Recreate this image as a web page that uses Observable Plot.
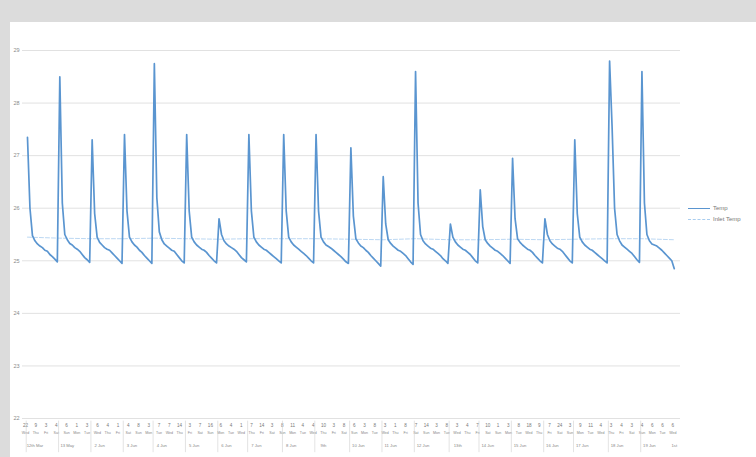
<!DOCTYPE html>
<html>
<head>
<meta charset="utf-8">
<script src="https://cdn.jsdelivr.net/npm/d3@7"></script>
<script src="https://cdn.jsdelivr.net/npm/@observablehq/plot@0.6"></script>
<style>
  html, body { margin: 0; padding: 0; }
  body { width: 756px; height: 457px; background: #dcdcdc; position: relative; overflow: hidden; font-family: "Liberation Sans", Arial, sans-serif; }
  #panel { position: absolute; left: 10px; top: 22px; width: 746px; height: 435px; background: #fff; }
  #legend { position: absolute; left: 678px; top: 181px; font-size: 6px; color: #777; line-height: 11px; }
  #legend .row { display: flex; align-items: center; }
  #legend .sw { width: 22px; height: 0; margin-right: 3px; }
</style>
</head>
<body>
<div id="panel">
  <div id="chart"></div>
  <div id="legend">
    <div class="row"><span class="sw" style="border-top:1.5px solid #5a95d0"></span>Temp</div>
    <div class="row"><span class="sw" style="border-top:1px dashed #a9cdef"></span>Inlet Temp</div>
  </div>
</div>
<script>
// Series names
const seriesNames = ["Temp", "Inlet Temp"];

// Temperature readings, one array per heating cycle
const cycles = [
  [27.35, 26.0, 25.48, 25.38, 25.32, 25.28, 25.25, 25.2, 25.18, 25.12, 25.08, 25.03, 24.98],
  [28.5, 26.1, 25.5, 25.4, 25.33, 25.3, 25.25, 25.22, 25.18, 25.12, 25.06, 25.02, 24.97],
  [27.3, 25.9, 25.45, 25.35, 25.3, 25.25, 25.22, 25.2, 25.15, 25.1, 25.05, 25.0, 24.95],
  [27.4, 25.95, 25.45, 25.36, 25.3, 25.26, 25.2, 25.16, 25.1, 25.05, 25.0, 24.95],
  [28.75, 26.2, 25.55, 25.4, 25.32, 25.28, 25.24, 25.2, 25.18, 25.12, 25.06, 25.0, 24.96],
  [27.4, 25.95, 25.45, 25.36, 25.3, 25.26, 25.22, 25.2, 25.16, 25.1, 25.05, 25.0, 24.96],
  [25.8, 25.5, 25.38, 25.32, 25.28, 25.25, 25.22, 25.18, 25.12, 25.06, 25.02, 24.98],
  [27.4, 25.95, 25.45, 25.36, 25.3, 25.26, 25.22, 25.2, 25.16, 25.12, 25.08, 25.04, 25.0, 24.96],
  [27.4, 25.95, 25.45, 25.36, 25.3, 25.26, 25.22, 25.18, 25.14, 25.1, 25.05, 25.0, 24.96],
  [27.4, 25.95, 25.45, 25.36, 25.3, 25.27, 25.24, 25.2, 25.16, 25.12, 25.08, 25.03, 24.98, 24.95],
  [27.15, 25.85, 25.42, 25.34, 25.28, 25.25, 25.2, 25.16, 25.1, 25.05, 25.0, 24.95, 24.9],
  [26.6, 25.7, 25.4, 25.33, 25.28, 25.24, 25.2, 25.18, 25.14, 25.1, 25.04, 24.98, 24.93],
  [28.6, 26.1, 25.5, 25.38, 25.32, 25.28, 25.24, 25.22, 25.18, 25.14, 25.1, 25.04, 25.0, 24.95],
  [25.7, 25.45, 25.36, 25.3, 25.26, 25.22, 25.2, 25.16, 25.12, 25.06, 25.0, 24.96],
  [26.35, 25.65, 25.4, 25.33, 25.28, 25.24, 25.2, 25.18, 25.14, 25.1, 25.05, 25.0, 24.95],
  [26.95, 25.8, 25.42, 25.35, 25.3, 25.26, 25.22, 25.2, 25.16, 25.1, 25.05, 25.0, 24.96],
  [25.8, 25.5, 25.38, 25.32, 25.28, 25.24, 25.22, 25.18, 25.12, 25.06, 25.0, 24.96],
  [27.3, 25.9, 25.45, 25.36, 25.3, 25.26, 25.22, 25.2, 25.16, 25.12, 25.08, 25.04, 25.0, 24.96],
  [28.8, 27.55, 26.0, 25.5, 25.38, 25.3, 25.26, 25.22, 25.18, 25.14, 25.08, 25.02, 24.97],
  [28.6, 26.1, 25.5, 25.38, 25.32, 25.3, 25.28, 25.24, 25.2, 25.15, 25.1, 25.05, 25.0, 24.85]
];

// Inlet temperature (dashed), one reading per cycle start
const inletValues = [25.45, 25.43, 25.42, 25.42, 25.43, 25.42, 25.41, 25.42, 25.42, 25.42, 25.41, 25.4, 25.42, 25.4, 25.4, 25.41, 25.4, 25.41, 25.42, 25.42, 25.4];

// Axis labels
const yTicks = [22, 23, 24, 25, 26, 27, 28, 29];
const hourLabels = ["22","9","3","4","6","1","3","6","4","1","4","8","3","7","7","14","3","7","16","6","4","1",
  "7","14","3","8","11","4","4","10","3","8","6","3","8","3","1","8","7","14","3","8","3","4","7","10",
  "1","3","8","18","9","7","24","3","9","11","4","3","4","3","4","6","6","6"];
const dayLabels = ["Wed","Thu","Fri","Sat","Sun","Mon","Tue"];
const dateLabels = ["12th Mar","13 May","2 Jun","3 Jun","4 Jun","5 Jun","6 Jun","7 Jun","8 Jun","9th",
  "10 Jun","11 Jun","12 Jun","13th","14 Jun","15 Jun","16 Jun","17 Jun","18 Jun","19 Jun","1st"];

// Build table
const temp = [];
const starts = [];
cycles.forEach((c) => {
  starts.push(temp.length);
  c.forEach(v => temp.push({i: temp.length, v}));
});
const lastIdx = temp.length - 1;
starts.push(lastIdx);
const inlet = inletValues.map((v, k) => ({i: starts[Math.min(k, starts.length - 1)], v}));

const hourRows = hourLabels.map((t, k) => ({i: -0.8 + k * (lastIdx + 0.2) / (hourLabels.length - 1), t, d: dayLabels[k % dayLabels.length]}));
const dateRows = dateLabels.map((t, k) => ({i: starts[k] + (k < starts.length - 1 ? 3 : 0), t}));
const seps = starts.slice(0, -1).map(s => ({i: s - 0.5}));

const grey = "#8a8a8a";
const chart = Plot.plot({
  width: 746,
  height: 435,
  marginLeft: 12,
  marginRight: 76,
  marginTop: 28,
  marginBottom: 39,
  style: {background: "transparent", fontFamily: "Liberation Sans, Arial, sans-serif"},
  x: {domain: [-2, lastIdx + 2.5], axis: null},
  y: {domain: [22, 29], axis: null},
  marks: [
    Plot.gridY(yTicks, {stroke: "#d9d9d9", strokeOpacity: 1, strokeWidth: 0.8}),
    Plot.axisY(yTicks, {tickSize: 0, tickPadding: 3, fontSize: 5.5, fill: grey, label: null, tickFormat: d => String(d)}),
    Plot.line(inlet, {x: "i", y: "v", stroke: "#b3d3f0", strokeWidth: 0.9, strokeDasharray: "4,2"}),
    Plot.line(temp, {x: "i", y: "v", stroke: "#5a95d0", strokeWidth: 1.7, strokeLinejoin: "round"}),
    Plot.text(hourRows, {x: "i", y: () => 22, text: "t", dy: 7, fontSize: 4.6, fill: "#777"}),
    Plot.text(hourRows, {x: "i", y: () => 22, text: "d", dy: 14, fontSize: 3.6, fill: "#888"}),
    Plot.text(dateRows, {x: "i", y: () => 22, text: "t", dy: 27, fontSize: 4.2, fill: "#888"}),
    Plot.ruleX(seps, {x: "i", y1: () => 21.95, y2: () => 21.35, stroke: "#d0d0d0", strokeWidth: 0.6})
  ]
});
document.getElementById("chart").appendChild(chart);
</script>
</body>
</html>
